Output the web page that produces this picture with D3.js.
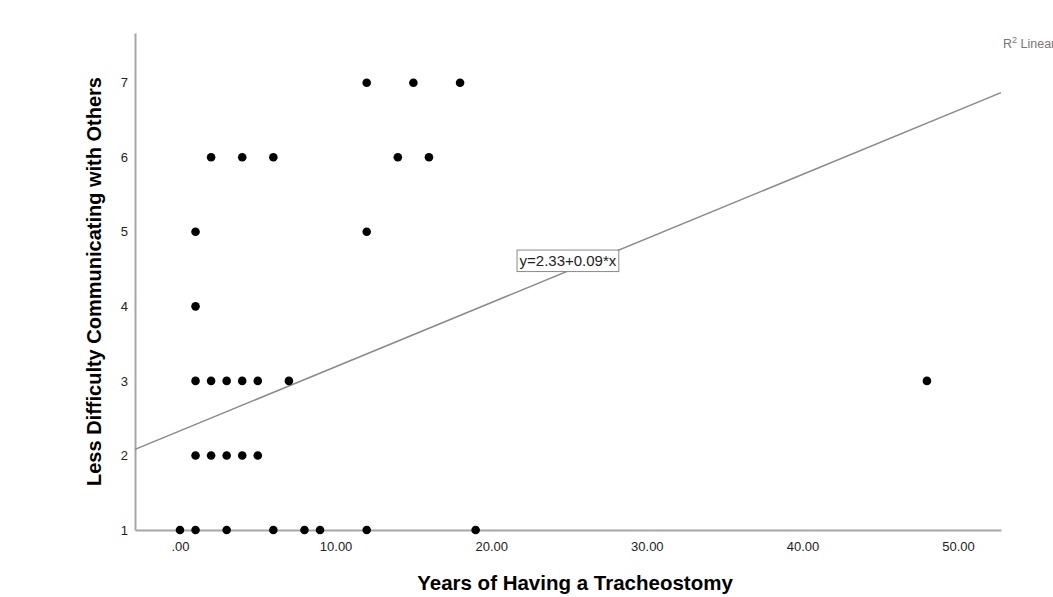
<!DOCTYPE html>
<html>
<head>
<meta charset="utf-8">
<script src="https://cdn.jsdelivr.net/npm/d3@7"></script>
<style>
  html, body { margin: 0; padding: 0; background: #fff; }
  svg { display: block; font-family: Arial, "Liberation Sans", sans-serif; }
</style>
</head>
<body>
<svg id="chart" width="1053" height="597"></svg>
<script>
"use strict";

// Years of having a tracheostomy vs. "less difficulty communicating" score (1-7).
const years  = [0, 1, 3, 6, 8, 9, 12, 19,
                1, 2, 3, 4, 5,
                1, 2, 3, 4, 5, 7, 48,
                1,
                1, 12,
                2, 4, 6, 14, 16,
                12, 15, 18];
const scores = [1, 1, 1, 1, 1, 1, 1, 1,
                2, 2, 2, 2, 2,
                3, 3, 3, 3, 3, 3, 3,
                4,
                5, 5,
                6, 6, 6, 6, 6,
                7, 7, 7];

const xTicks = [0, 10, 20, 30, 40, 50];
const yTicks = [1, 2, 3, 4, 5, 6, 7];

// fitted line (label shows rounded coefficients)
const fit = { intercept: 2.33, slope: 0.086 };
const fitLabel = "y=2.33+0.09*x";
const fitLabelAt = 28.2; // x value where the label box touches the line

(function () {
  const plotL = 135, plotR = 1001, plotT = 33, plotB = 530;

  const x = d3.scaleLinear().domain([-2.89, 52.76]).range([plotL, plotR]);
  const y = d3.scaleLinear().domain([1, 7.667]).range([plotB, plotT]);

  const svg = d3.select("#chart");
  const axisColor = "#a6a6a6";
  const tickFmt = (v) => (v === 0 ? ".00" : d3.format(".2f")(v));

  // axes lines (SPSS style, no tick marks)
  const xAxis = svg.append("g")
    .attr("transform", `translate(0,${plotB})`)
    .call(d3.axisBottom(x).tickValues(xTicks).tickFormat(tickFmt).tickSize(0).tickPadding(12));
  const yAxis = svg.append("g")
    .attr("transform", `translate(${plotL},0)`)
    .call(d3.axisLeft(y).tickValues(yTicks).tickFormat(d3.format("d")).tickSize(0).tickPadding(7));

  [xAxis, yAxis].forEach((g) => {
    g.select(".domain").attr("stroke", axisColor).attr("stroke-width", 2);
    g.selectAll("text").attr("font-size", 13).attr("fill", "#222")
      .attr("font-family", "Arial, 'Liberation Sans', sans-serif");
  });

  // regression line
  const [x0, x1] = x.domain();
  svg.append("line")
    .attr("x1", x(x0)).attr("y1", y(fit.intercept + fit.slope * x0))
    .attr("x2", x(x1)).attr("y2", y(fit.intercept + fit.slope * x1))
    .attr("stroke", "#8a8a8a").attr("stroke-width", 1.5);

  // points
  svg.append("g")
    .selectAll("circle")
    .data(years.map((v, i) => [v, scores[i]]))
    .enter()
    .append("circle")
    .attr("cx", (d) => x(d[0]))
    .attr("cy", (d) => y(d[1]))
    .attr("r", 4.3)
    .attr("fill", "#000");

  // equation label box, top-right corner sitting on the line
  const bx = x(fitLabelAt), by = y(fit.intercept + fit.slope * fitLabelAt);
  const lab = svg.append("g");
  const labText = lab.append("text")
    .attr("font-size", 15).attr("fill", "#222")
    .text(fitLabel);
  const tw = labText.node().getComputedTextLength();
  const bw = tw + 5, bh = 21.5;
  lab.insert("rect", "text")
    .attr("x", bx - bw).attr("y", by)
    .attr("width", bw).attr("height", bh)
    .attr("fill", "#fff").attr("stroke", "#8a8a8a").attr("stroke-width", 1);
  labText.attr("x", bx - bw + 2.5).attr("y", by + 16);

  // R² Linear legend text, clipped by the right edge
  const r2 = svg.append("text")
    .attr("x", 1003).attr("y", 48)
    .attr("font-size", 12.5).attr("fill", "#777");
  r2.append("tspan").text("R");
  r2.append("tspan").attr("font-size", 9).attr("dy", -5).text("2");
  r2.append("tspan").attr("dy", 5).text(" Linear");

  // axis titles
  svg.append("text")
    .attr("x", (plotL + plotR) / 2 + 7).attr("y", 590)
    .attr("text-anchor", "middle")
    .attr("font-size", 20.5).attr("font-weight", "bold").attr("fill", "#000")
    .text("Years of Having a Tracheostomy");

  svg.append("text")
    .attr("transform", `translate(101,${(plotT + plotB) / 2}) rotate(-90)`)
    .attr("text-anchor", "middle")
    .attr("font-size", 20).attr("font-weight", "bold").attr("fill", "#000")
    .text("Less Difficulty Communicating with Others");
})();
</script>
</body>
</html>
